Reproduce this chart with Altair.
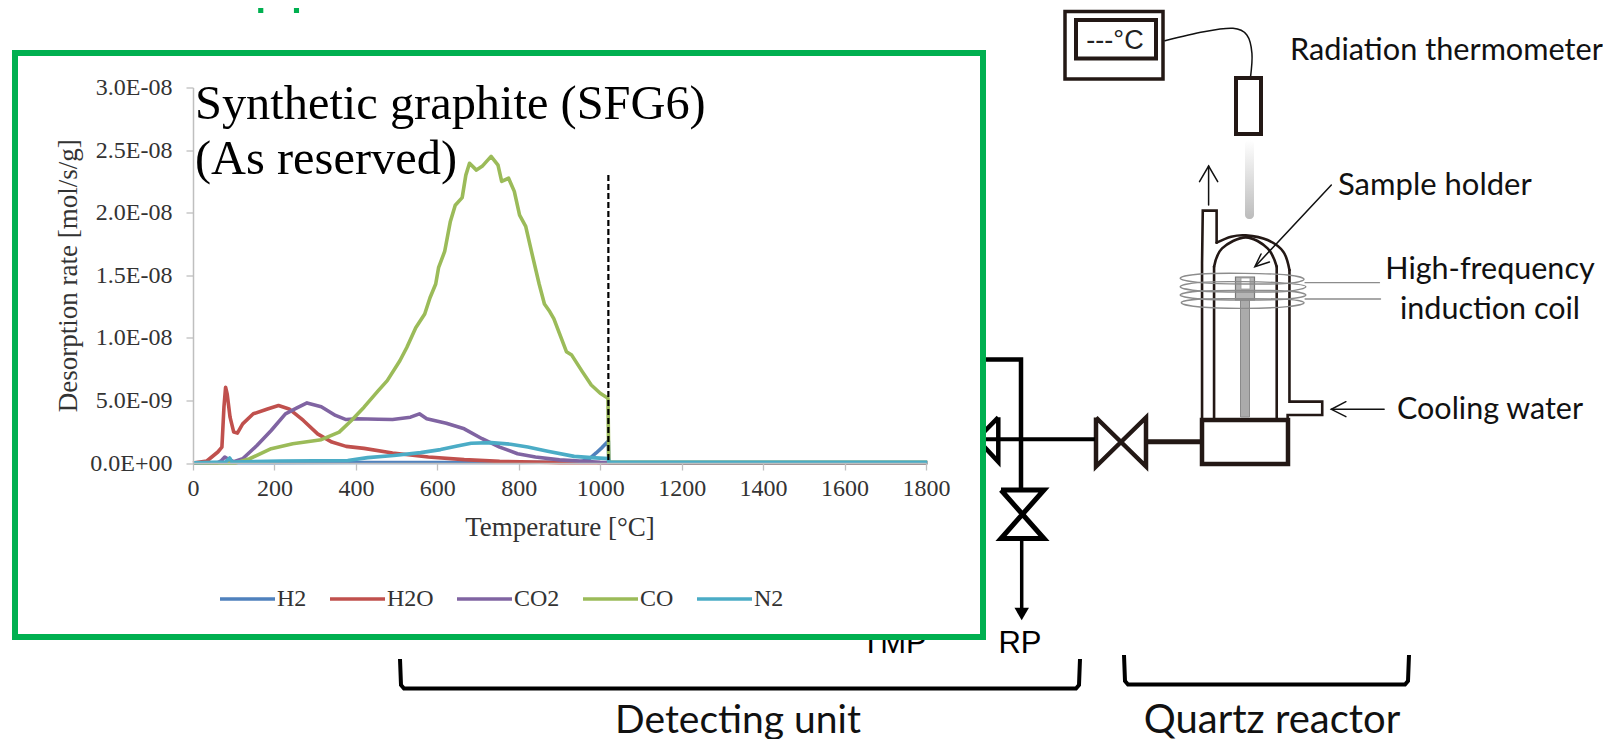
import altair as alt
import pandas as pd

# ---- chart values ----
SERIES = ["H2", "H2O", "CO2", "CO", "N2"]
COLORS = ["#4F81BD", "#C0504D", "#8064A2", "#9BBB59", "#4BACC6"]

H2_T = [0, 200, 400, 600, 800, 950, 972, 990, 1005, 1020, 1021, 1200, 1400, 1600, 1803]
H2_V = [0.002, 0.003, 0.004, 0.004, 0.004, 0.008, 0.03, 0.08, 0.125, 0.176, 0.004, 0.003, 0.003, 0.003, 0.003]

H2O_T = [0, 34, 61, 71, 76, 80, 84, 91, 100, 109, 122, 148, 183, 210, 236, 271, 306, 341, 376, 420, 490, 578, 666, 753, 900, 1020, 1021, 1400, 1803]
H2O_V = [0, 0.016, 0.088, 0.127, 0.446, 0.605, 0.55, 0.366, 0.247, 0.239, 0.313, 0.393, 0.432, 0.459, 0.432, 0.34, 0.233, 0.167, 0.133, 0.117, 0.08, 0.048, 0.027, 0.013, 0.003, 0.002, 0.002, 0.002, 0.002]

CO2_T = [0, 60, 69, 78, 87, 100, 122, 157, 192, 227, 254, 280, 315, 350, 376, 403, 455, 490, 534, 556, 574, 622, 666, 710, 753, 797, 841, 900, 1000, 1021, 1400, 1803]
CO2_V = [0, 0.002, 0.016, 0.048, 0.03, 0.01, 0.034, 0.14, 0.26, 0.393, 0.438, 0.48, 0.45, 0.38, 0.347, 0.353, 0.35, 0.347, 0.366, 0.393, 0.353, 0.318, 0.273, 0.194, 0.127, 0.074, 0.048, 0.025, 0.005, 0.003, 0.002, 0.002]

CO_T = [0, 104, 139, 192, 245, 315, 359, 389, 420, 455, 477, 508, 525, 547, 569, 582, 596, 603, 618, 632, 644, 661, 670, 679, 696, 710, 732, 749, 758, 775, 789, 802, 817, 833, 850, 863, 876, 886, 917, 930, 956, 978, 1000, 1019, 1021, 1400, 1803]
CO_V = [0, 0, 0.034, 0.114, 0.154, 0.186, 0.247, 0.34, 0.446, 0.578, 0.658, 0.817, 0.923, 1.08, 1.19, 1.32, 1.43, 1.56, 1.69, 1.93, 2.06, 2.12, 2.30, 2.395, 2.34, 2.37, 2.45, 2.38, 2.25, 2.275, 2.17, 1.98, 1.89, 1.665, 1.43, 1.27, 1.21, 1.154, 0.889, 0.862, 0.73, 0.623, 0.557, 0.517, 0.005, 0.005, 0.005]

N2_T = [0, 80, 90, 96, 214, 380, 429, 493, 559, 608, 649, 683, 732, 780, 822, 871, 936, 978, 1020, 1021, 1400, 1803]
N2_V = [0.002, 0.008, 0.04, 0.008, 0.016, 0.02, 0.043, 0.06, 0.083, 0.107, 0.136, 0.158, 0.163, 0.15, 0.128, 0.094, 0.053, 0.043, 0.035, 0.006, 0.006, 0.006]

ALL = [H2_T, H2O_T, CO2_T, CO_T, N2_T]
ALLV = [H2_V, H2O_V, CO2_V, CO_V, N2_V]

X_TICKS = [0, 200, 400, 600, 800, 1000, 1200, 1400, 1600, 1800]
Y_TICKS = [0, 0.5e-8, 1.0e-8, 1.5e-8, 2.0e-8, 2.5e-8, 3.0e-8]
CUT_T = [1020]
CUT_TOP = [2.3e-8]

# ---- page layout ----
X0, Y0 = 193.0, 87.5          # plot origin on the page
PW, PH = 733, 375.5
SERIF = "Liberation Serif"
SANS = "Lato"
INK = "#231815"
ONE = alt.Data(values=[{"k": 1}])


def rx(v):
    return v - X0


def ry(v):
    return v - Y0


def poly(points, color=INK, width=3.0, interpolate="linear", opacity=1.0, join="miter"):
    rows = [{"x": rx(a), "y": ry(b), "i": n} for n, (a, b) in enumerate(points)]
    return alt.Chart(alt.Data(values=rows)).mark_line(
        color=color, strokeWidth=width, interpolate=interpolate, opacity=opacity,
        strokeJoin=join, strokeCap="round" if width < 3 else "butt",
    ).encode(
        x=alt.X("x:Q", scale=None, axis=None),
        y=alt.Y("y:Q", scale=None, axis=None),
        order=alt.Order("i:Q"),
    )


def z(points):
    """points read on the enlarged crop of the reactor, brought to page pixels"""
    return [(1040 + a / 2.746, b / 3) for a, b in points]


def box(x1, y1, x2, y2, fill="transparent", stroke=INK, width=3.0, **kw):
    return alt.Chart(ONE).mark_rect(fill=fill, stroke=stroke, strokeWidth=width, **kw).encode(
        x=alt.value(rx(x1)), x2=alt.value(rx(x2)), y=alt.value(ry(y1)), y2=alt.value(ry(y2))
    )


def label(txt, x, y, size, font=SANS, color="#111111", align="center", weight="normal"):
    return alt.Chart(ONE).mark_text(
        text=txt, font=font, fontSize=size, color=color, align=align, baseline="alphabetic",
        fontWeight=weight,
    ).encode(x=alt.value(rx(x)), y=alt.value(ry(y)))


diagram = [
    # thermometer
    box(1065, 11.5, 1163, 79, width=3.5),
    box(1076, 20, 1156, 58.5, width=4),
    label("---°C", 1115, 49, 27, font="Liberation Sans", color="#222222"),
    poly(z([(343, 122), (450, 95), (530, 85), (568, 105), (582, 160), (578, 232)]),
         color="#111111", width=1.5, interpolate="cardinal"),
    box(1236, 78, 1261, 134, width=4),
    alt.Chart(ONE).mark_rect(
        fill=alt.LinearGradient(gradient="linear", x1=0, x2=0, y1=0, y2=1,
                                stops=[alt.GradientStop(color="#ffffff", offset=0),
                                       alt.GradientStop(color="#bcbcbc", offset=1)]),
        cornerRadius=4,
    ).encode(x=alt.value(rx(1245)), x2=alt.value(rx(1254)), y=alt.value(ry(140)), y2=alt.value(ry(219))),
    # exhaust arrow
    poly(z([(463, 615), (463, 498)]), width=1.5, color="#111111"),
    poly(z([(438, 545), (463, 498), (488, 545)]), width=1.5, color="#111111"),
    # quartz tube
    poly(z([(445, 1258), (445, 790), (447, 632), (485, 632), (485, 728)]), width=2.6),
    poly(z([(485, 728), (525, 710), (565, 706), (625, 720), (668, 755), (685, 810)]),
         width=2.6, interpolate="cardinal"),
    poly(z([(685, 810), (685, 1205), (775, 1205), (775, 1245), (680, 1245), (680, 1258)]), width=2.6),
    poly(z([(478, 1258), (478, 800)]), width=2.6),
    poly(z([(478, 800), (500, 745), (565, 712), (625, 745), (650, 800)]), width=2.6, interpolate="cardinal"),
    poly(z([(650, 800), (650, 1258)]), width=2.6),
    box(1202, 420, 1288, 464, width=4.5),
    # rod and holder
    box(1240.5, 300, 1249.5, 417, fill="#ABABAB", stroke="#8a8a8a", width=1),
    box(1235.5, 277, 1254.5, 300, fill="#b5b5b5", stroke="#777777", width=1.2),
    box(1241, 278, 1250, 289, fill="#ffffff", stroke="#999999", width=0.8),
    # coil
    poly(z([(385, 835), (440, 822), (560, 820), (680, 825), (725, 838), (680, 850), (560, 852), (440, 848)]),
         color="#8c8c8c", width=1.4, interpolate="cardinal-closed"),
    poly(z([(385, 860), (440, 847), (560, 845), (680, 850), (730, 860), (680, 874), (560, 876), (440, 873)]),
         color="#8c8c8c", width=1.4, interpolate="cardinal-closed"),
    poly(z([(385, 885), (440, 873), (560, 871), (680, 873), (730, 885), (680, 897), (560, 900), (440, 897)]),
         color="#8c8c8c", width=1.4, interpolate="cardinal-closed"),
    poly(z([(388, 908), (440, 897), (560, 896), (680, 898), (725, 908), (680, 920), (560, 925), (440, 921)]),
         color="#8c8c8c", width=1.4, interpolate="cardinal-closed"),
    poly(z([(728, 848), (932, 848)]), color="#8c8c8c", width=1.4),
    poly(z([(728, 897), (935, 897)]), color="#8c8c8c", width=1.4),
    # sample holder pointer
    poly(z([(800, 555), (592, 798)]), width=1.5, color="#111111"),
    poly(z([(607, 762), (590, 800), (630, 786)]), width=1.5, color="#111111"),
    # cooling water pointer
    poly(z([(945, 1228), (800, 1228)]), width=1.5, color="#111111"),
    poly(z([(840, 1205), (800, 1228), (840, 1250)]), width=1.5, color="#111111"),
    # pipes and valves
    poly([(1147, 441.7), (1201, 441.7)], width=5),
    poly([(1096, 417.5), (1096, 466.5), (1146, 417.5), (1146, 466.5), (1096, 417.5)], width=4.5),
    poly([(975, 439.3), (1095, 439.3)], color="#000000", width=4),
    poly([(975, 359.5), (1021, 359.5), (1021, 488)], color="#000000", width=4.5),
    poly([(998.3, 417.3), (977, 439), (998.3, 461.7), (998.3, 417.3)], color="#000000", width=4.5),
    poly([(1001, 490), (1044, 490), (1001, 538.5), (1044, 538.5), (1001, 490)], color="#000000", width=5),
    poly([(1021.7, 540), (1021.7, 610)], color="#000000", width=3.5),
    alt.Chart(ONE).mark_point(shape="triangle-down", filled=True, opacity=1, color="#000000", size=210).encode(
        x=alt.value(rx(1021.7)), y=alt.value(ry(614))),
    # labels of the apparatus
    label("Radiation thermometer", 1290, 60, 30.7, align="left"),
    label("Sample holder", 1338, 195, 31, align="left"),
    label("High-frequency", 1490, 279, 30.5),
    label("induction coil", 1490, 319, 30.5),
    label("Cooling water", 1490, 419, 30.5),
    label("TMP", 894, 653, 31, font="Liberation Sans", color="#000000"),
    label("RP", 1020, 653, 31, font="Liberation Sans", color="#000000"),
    poly([(400, 659), (401, 685), (404, 688.5), (1076, 688.5), (1079, 685), (1080, 659)], color="#000000", width=4),
    poly([(1124, 655), (1125, 681), (1128, 684.5), (1405, 684.5), (1408, 681), (1409, 655)], color="#000000", width=4),
    label("Detecting unit", 738, 733, 39),
    label("Quartz reactor", 1272, 733, 40),
    # heading hidden above the page
    label("pp", 289, -1, 58, font="Noto Sans", color="#00B050"),
    # white frame holding the graph
    box(15, 53, 983, 637, fill="#ffffff", stroke="#00B050", width=6),
]

rows = []
for s, ts, vs in zip(SERIES, ALL, ALLV):
    for t, v in zip(ts, vs):
        rows.append({"series": s, "T": t, "rate": v * 1e-8})
df = pd.DataFrame(rows)

x_enc = alt.X(
    "T:Q",
    scale=alt.Scale(domain=[0, 1800], nice=False, zero=False),
    axis=alt.Axis(
        values=X_TICKS, title="Temperature [°C]", grid=False, zindex=1, format="d",
        domainColor="#BFBFBF", domainWidth=1.5, tickColor="#BFBFBF", tickSize=7, tickWidth=1.3,
        labelFont=SERIF, labelFontSize=24, labelColor="#333333", labelPadding=6,
        labelFlush=False, labelOverlap=False,
        titleFont=SERIF, titleFontSize=27, titleFontWeight="normal", titleColor="#333333", titlePadding=14,
    ),
)
y_enc = alt.Y(
    "rate:Q",
    scale=alt.Scale(domain=[0, 3e-8], nice=False),
    axis=alt.Axis(
        values=Y_TICKS, title="Desorption rate [mol/s/g]", grid=False, zindex=1,
        labelExpr="replace(replace(upper(format(datum.value,'.1e')),'-','-0'),'+0','+00')",
        domainColor="#BFBFBF", domainWidth=1.5, tickColor="#BFBFBF", tickSize=7, tickWidth=1.3,
        labelFont=SERIF, labelFontSize=24, labelColor="#333333", labelPadding=14,
        labelOverlap=False,
        titleFont=SERIF, titleFontSize=27, titleFontWeight="normal", titleColor="#333333", titlePadding=7,
    ),
)

lines = alt.Chart(df).mark_line(strokeWidth=3.6, strokeJoin="round", clip=False).encode(
    x=x_enc,
    y=y_enc,
    color=alt.Color(
        "series:N",
        scale=alt.Scale(domain=SERIES, range=COLORS),
        sort=SERIES,
        legend=alt.Legend(
            title=None, orient="none", legendX=rx(218), legendY=ry(569.5), direction="horizontal",
            columns=5, gridAlign="none", columnPadding=15, symbolType="stroke", symbolSize=3025,
            symbolStrokeWidth=3.6, labelFont=SERIF, labelFontSize=24, labelColor="#333333",
            labelOffset=0, padding=0,
        ),
    ),
    detail="series:N",
    order=alt.Order("T:Q"),
)

cut = alt.Chart(pd.DataFrame({"T": CUT_T, "top": CUT_TOP, "base": [0.0]})).mark_rule(
    color="#000000", strokeWidth=2.2, strokeDash=[6, 3]
).encode(
    x=alt.X("T:Q", scale=alt.Scale(domain=[0, 1800], nice=False, zero=False), axis=None),
    y=alt.Y("top:Q", scale=alt.Scale(domain=[0, 3e-8], nice=False), axis=None),
    y2="base:Q",
)

notes = [
    label("Synthetic graphite (SFG6)", 195, 118.5, 48.4, font=SERIF, color="#000000", align="left"),
    label("(As reserved)", 195, 174, 48.4, font=SERIF, color="#000000", align="left"),
]

chart = alt.layer(*diagram, lines, cut, *notes).resolve_scale(
    x="independent", y="independent", color="independent"
).properties(
    width=PW, height=PH,
    padding={"left": X0 - 8, "top": Y0 - 8, "right": 1595 - (X0 - 8) - PW, "bottom": 731 - (Y0 - 8) - PH},
    autosize=alt.AutoSizeParams(type="none"),
    background="#ffffff",
).configure_view(stroke=None)

chart.save("out.html", embed_options={"renderer": "svg", "actions": False})
